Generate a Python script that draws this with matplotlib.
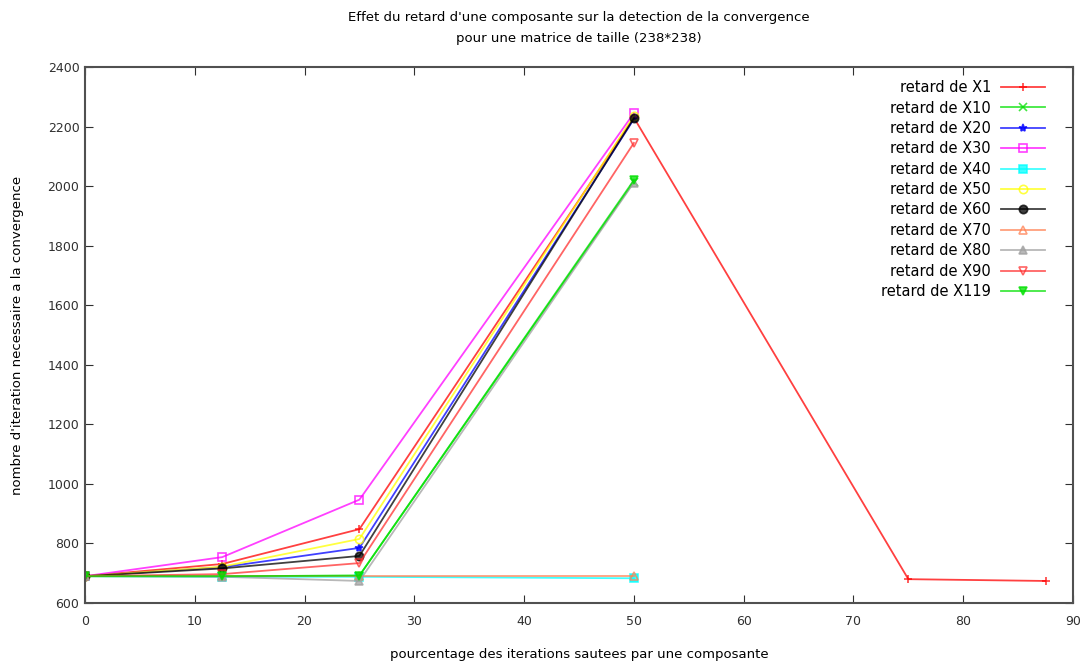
import numpy as np
import matplotlib
matplotlib.use("Agg")
import matplotlib.pyplot as plt

# pourcentage des iterations sautees
x_main = [0, 12.5, 25, 50]
x_x1 = [0, 12.5, 25, 50, 75, 87.5]

labels = ["retard de X1", "retard de X10", "retard de X20", "retard de X30",
          "retard de X40", "retard de X50", "retard de X60", "retard de X70",
          "retard de X80", "retard de X90", "retard de X119"]

y_x1 = [690, 731, 848, 2230, 680, 674]
y_x10 = [690, 690, 692, 2015]
y_x20 = [690, 720, 785, 2225]
y_x30 = [690, 754, 947, 2245]
y_x40 = [690, 688, 688, 683]
y_x50 = [690, 722, 815, 2236]
y_x60 = [690, 716, 758, 2228]
y_x70 = [690, 690, 690, 690]
y_x80 = [690, 688, 674, 2012]
y_x90 = [690, 697, 734, 2145]
y_x119 = [690, 690, 692, 2020]

series = [
    (x_x1, y_x1, "#ff0000", "+", True),
    (x_main, y_x10, "#00e000", "x", True),
    (x_main, y_x20, "#0000ff", "*", True),
    (x_main, y_x30, "#ff00ff", "s", False),
    (x_main, y_x40, "#00ffff", "s", True),
    (x_main, y_x50, "#ffff00", "o", False),
    (x_main, y_x60, "#000000", "o", True),
    (x_main, y_x70, "#ff7f50", "^", False),
    (x_main, y_x80, "#a0a0a0", "^", True),
    (x_main, y_x90, "#ff3030", "v", False),
    (x_main, y_x119, "#00e000", "v", True),
]

fig = plt.figure(figsize=(10.81, 6.66), dpi=100)
ax = fig.add_axes([0.0786, 0.0946, 0.914, 0.8048])

for (xs, ys, col, mk, filled), lab in zip(series, labels):
    ax.plot(xs, ys, color=col, marker=mk, markersize=6, linewidth=1.3,
            alpha=0.75, markeredgewidth=1.2,
            fillstyle='full' if filled else 'none', label=lab)

ax.set_xlim(0, 90)
ax.set_ylim(600, 2400)
ax.set_xticks(np.arange(0, 91, 10))
ax.set_yticks(np.arange(600, 2401, 200))
ax.tick_params(direction='in', top=True, right=True, length=6,
               labelsize=9, colors='#303030')
ax.tick_params(axis='x', pad=9)
ax.tick_params(axis='y', pad=4)
for s in ax.spines.values():
    s.set_color('#505050')
    s.set_linewidth(1.5)

ax.set_xlabel("pourcentage des iterations sautees par une composante",
              fontsize=9.5, labelpad=14)
ax.set_ylabel("nombre d'iteration necessaire a la convergence", fontsize=9.5,
              labelpad=17)
ax.set_title("Effet du retard d'une composante sur la detection de la convergence\n"
             "pour une matrice de taille (238*238)", fontsize=9.5, pad=18,
             linespacing=1.75)

ax.legend(loc='upper right', frameon=False, markerfirst=False, fontsize=10.5,
          handlelength=3.0, labelspacing=0.37, borderaxespad=0.5,
          handletextpad=0.7, bbox_to_anchor=(0.985, 1.0))

fig.savefig("out.png", dpi=100)
